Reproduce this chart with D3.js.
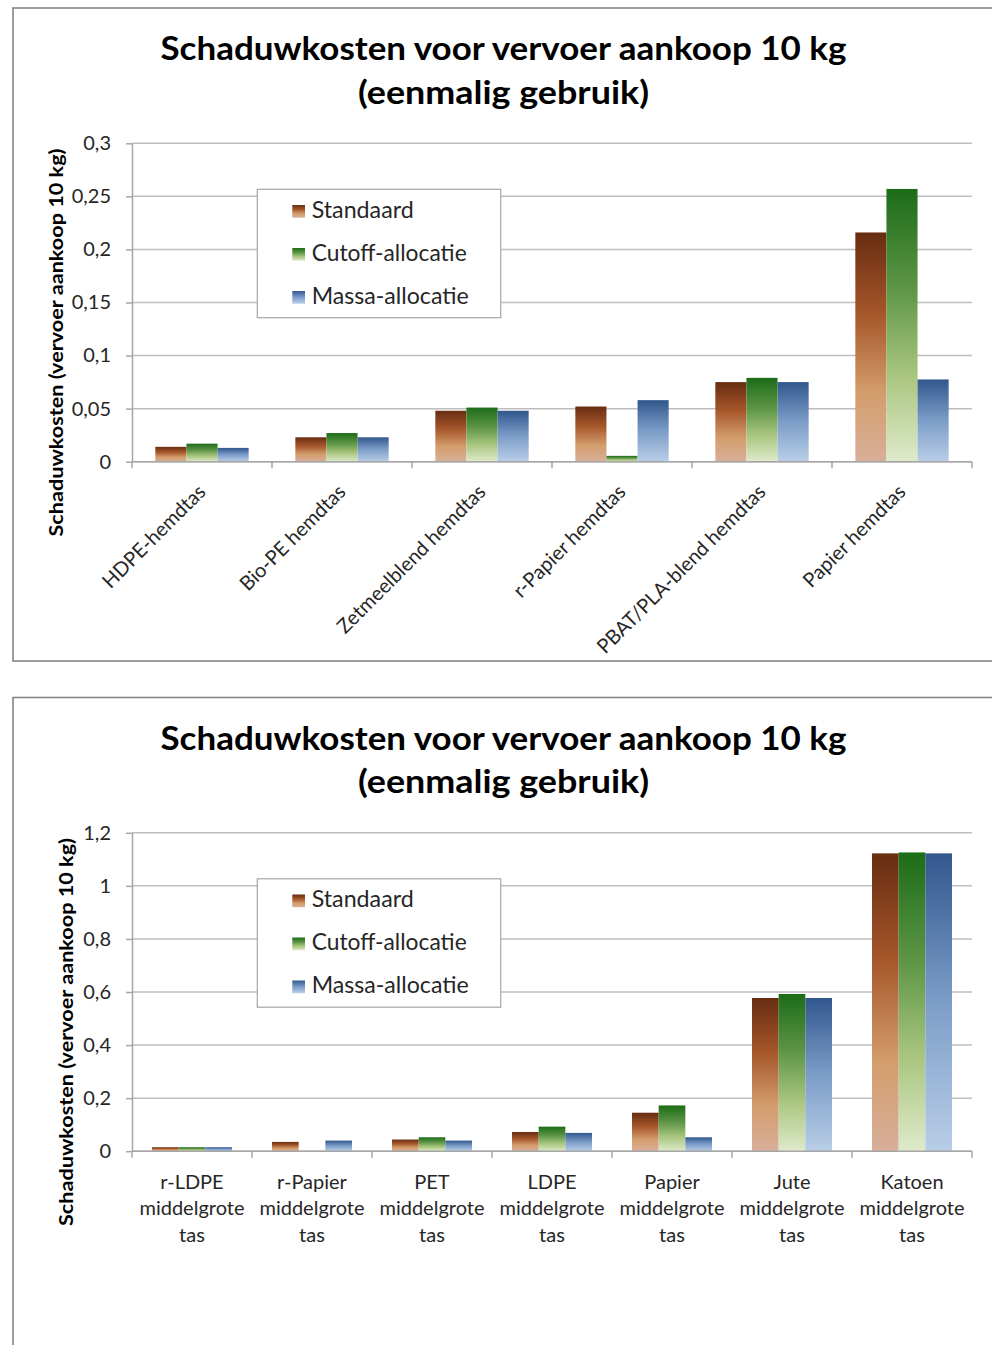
<!DOCTYPE html>
<html><head><meta charset="utf-8">
<script src="https://cdn.jsdelivr.net/npm/d3@7"></script>
<style>
body{margin:0;background:#fff;}
text{font-family:Lato,"Open Sans",sans-serif;}
</style>
</head><body><svg id="c"></svg>
<script>
// ---------- data ----------
const seriesNames = ["Standaard", "Cutoff-allocatie", "Massa-allocatie"];
const chartTitle = ["Schaduwkosten voor vervoer aankoop 10 kg", "(eenmalig gebruik)"];
const yAxisTitle = "Schaduwkosten (vervoer aankoop 10 kg)";

const topCategories = ["HDPE-hemdtas", "Bio-PE hemdtas", "Zetmeelblend hemdtas", "r-Papier hemdtas", "PBAT/PLA-blend hemdtas", "Papier hemdtas"];
const topStandaard = [0.014, 0.023, 0.048, 0.052, 0.075, 0.216];
const topCutoff    = [0.017, 0.027, 0.051, 0.0055, 0.079, 0.257];
const topMassa     = [0.013, 0.023, 0.048, 0.058, 0.075, 0.0775];
const topTicks = [0, 0.05, 0.1, 0.15, 0.2, 0.25, 0.3];
const topTickLabels = ["0", "0,05", "0,1", "0,15", "0,2", "0,25", "0,3"];

const bottomCategories = ["r-LDPE middelgrote tas", "r-Papier middelgrote tas", "PET middelgrote tas", "LDPE middelgrote tas", "Papier middelgrote tas", "Jute middelgrote tas", "Katoen middelgrote tas"];
const bottomCategoryLines = [["r-LDPE","middelgrote","tas"],["r-Papier","middelgrote","tas"],["PET","middelgrote","tas"],["LDPE","middelgrote","tas"],["Papier","middelgrote","tas"],["Jute","middelgrote","tas"],["Katoen","middelgrote","tas"]];
const bottomStandaard = [0.015, 0.035, 0.044, 0.0725, 0.145, 0.5775, 1.1225];
const bottomCutoff    = [0.015, 0, 0.0525, 0.0925, 0.1725, 0.5925, 1.126];
const bottomMassa     = [0.015, 0.04, 0.04, 0.069, 0.0525, 0.5775, 1.1225];
const bottomTicks = [0, 0.2, 0.4, 0.6, 0.8, 1, 1.2];
const bottomTickLabels = ["0", "0,2", "0,4", "0,6", "0,8", "1", "1,2"];

// ---------- styling ----------
const gradStops = [
  [["0%","#672d11"],["35%","#a5552a"],["70%","#d49d6c"],["100%","#d8af9a"]],
  [["0%","#1c6c18"],["35%","#5a9343"],["68%","#a8c57e"],["100%","#dfeacb"]],
  [["0%","#31578d"],["50%","#7c9dc8"],["100%","#b9cee7"]]
];

const svg = d3.select("#c").attr("width", 992).attr("height", 1345);
svg.append("rect").attr("width", 992).attr("height", 1345).attr("fill", "#fff");
const defs = svg.append("defs");
gradStops.forEach((stops, i) => {
  const lg = defs.append("linearGradient").attr("id", "g" + i)
    .attr("x1", 0).attr("y1", 0).attr("x2", 0).attr("y2", 1);
  stops.forEach(s => lg.append("stop").attr("offset", s[0]).attr("stop-color", s[1]));
});

function fit(t, w) {
  t.attr("textLength", w).attr("lengthAdjust", "spacingAndGlyphs");
  return t;
}

function drawChart(oy, cats, series, ticks, tickLabels, mode) {
  const g = svg.append("g").attr("transform", `translate(0,${oy})`);
  const frameH = mode === "rot" ? 653 : 700;
  g.append("rect").attr("x", 13).attr("y", 8).attr("width", 1000).attr("height", frameH)
    .attr("fill", "#fff").attr("stroke", "#858585").attr("stroke-width", 1.6);

  // title
  const tt = [[60, 686], [103.5, 291]];
  chartTitle.forEach((s, i) => {
    fit(g.append("text").attr("x", 503.5).attr("y", tt[i][0]).attr("text-anchor", "middle")
      .attr("font-size", 33).attr("font-weight", 700).attr("fill", "#000").text(s), tt[i][1]);
  });

  const yMax = ticks[ticks.length - 1];
  const y = d3.scaleLinear().domain([0, yMax]).range([461.7, 143.3]);
  const x0 = d3.scaleBand().domain(cats).range([132, 972]).padding(0);
  const x1 = d3.scaleBand().domain(seriesNames).range([0, x0.bandwidth()]).paddingInner(0).paddingOuter(0.75);

  // gridlines
  g.append("g").selectAll("line").data(ticks).join("line")
    .attr("x1", 132).attr("x2", 972).attr("y1", d => y(d)).attr("y2", d => y(d))
    .attr("stroke", "#bebebe").attr("stroke-width", 1.5);

  // y axis
  const ya = g.append("g").attr("transform", "translate(132,0)")
    .call(d3.axisLeft(y).tickValues(ticks).tickFormat((d, i) => tickLabels[i]).tickSize(6).tickSizeOuter(0).tickPadding(15));
  ya.select(".domain").attr("stroke", "#a6a6a6").attr("stroke-width", 1.5);
  ya.selectAll(".tick line").attr("stroke", "#a6a6a6").attr("stroke-width", 1.5);
  ya.selectAll(".tick text").attr("font-family", "Lato").attr("font-size", 20).attr("fill", "#262626");

  // bars
  const bg = g.append("g");
  cats.forEach((c, ci) => {
    seriesNames.forEach((s, si) => {
      const v = series[si][ci];
      if (v <= 0) return;
      bg.append("rect").attr("x", x0(c) + x1(s)).attr("width", x1.bandwidth())
        .attr("y", y(v)).attr("height", y(0) - y(v)).attr("fill", `url(#g${si})`);
    });
  });

  // x axis
  g.append("line").attr("x1", 132).attr("x2", 972).attr("y1", y(0)).attr("y2", y(0))
    .attr("stroke", "#a6a6a6").attr("stroke-width", 1.5);
  const bounds = d3.range(cats.length + 1).map(i => 132 + i * x0.step());
  g.append("g").selectAll("line").data(bounds).join("line")
    .attr("x1", d => d).attr("x2", d => d).attr("y1", y(0)).attr("y2", y(0) + 6.5)
    .attr("stroke", "#a6a6a6").attr("stroke-width", 1.5);

  // category labels
  if (mode === "rot") {
    cats.forEach(c => {
      const cx = x0(c) + x0.bandwidth() / 2;
      g.append("text").attr("transform", `translate(${cx + 5},${493}) rotate(-45)`)
        .attr("text-anchor", "end").attr("font-size", 20).attr("fill", "#262626").text(c);
    });
  } else {
    cats.forEach((c, ci) => {
      const cx = x0(c) + x0.bandwidth() / 2;
      const t = g.append("text").attr("text-anchor", "middle").attr("font-size", 20).attr("fill", "#262626");
      bottomCategoryLines[ci].forEach((ln, li) => {
        t.append("tspan").attr("x", cx).attr("y", 499 + li * 26.5).text(ln);
      });
    });
  }

  // y axis title
  const yx = mode === "rot" ? 62.5 : 73;
  fit(g.append("text").attr("transform", `translate(${yx},342.5) rotate(-90)`)
    .attr("text-anchor", "middle").attr("font-size", 19.5).attr("font-weight", 700)
    .attr("fill", "#000").text(yAxisTitle), 388);

  // legend
  const lg = g.append("g");
  lg.append("rect").attr("x", 257.3).attr("y", 189.3).attr("width", 243.4).attr("height", 128.4)
    .attr("fill", "#fff").attr("stroke", "#a6a6a6").attr("stroke-width", 1.2);
  const lw = [102, 155, 157];
  seriesNames.forEach((s, i) => {
    const by = 217.7 + i * 43;
    lg.append("rect").attr("x", 292.3).attr("y", by - 12.7).attr("width", 12.7).attr("height", 12.7)
      .attr("fill", `url(#g${i})`);
    fit(lg.append("text").attr("x", 311.7).attr("y", by).attr("font-size", 22.5).attr("fill", "#262626").text(s), lw[i]);
  });
}

drawChart(0, topCategories, [topStandaard, topCutoff, topMassa], topTicks, topTickLabels, "rot");
drawChart(689.5, bottomCategories, [bottomStandaard, bottomCutoff, bottomMassa], bottomTicks, bottomTickLabels, "flat");
</script>
</body></html>
